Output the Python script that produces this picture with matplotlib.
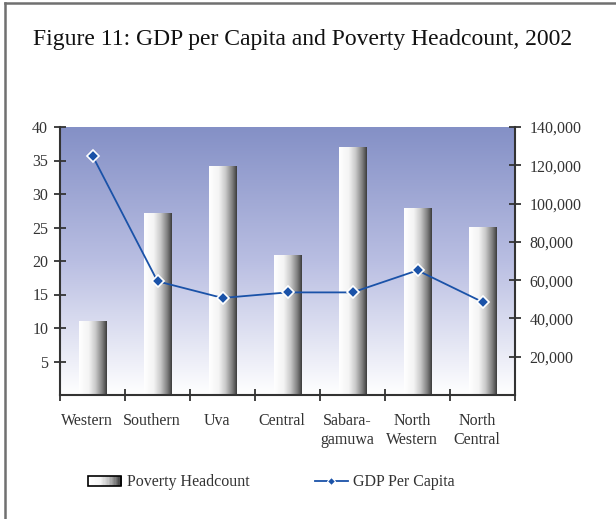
import numpy as np
import matplotlib
matplotlib.use("Agg")
import matplotlib.pyplot as plt
from matplotlib.colors import LinearSegmentedColormap
from matplotlib.patches import Rectangle
from matplotlib.lines import Line2D
from matplotlib.legend_handler import HandlerBase

categories = ["Western", "Southern", "Uva", "Central", "Sabara-\ngamuwa", "North\nWestern", "North\nCentral"]
poverty = [11.1, 27.2, 34.2, 20.9, 37.0, 27.9, 25.1]
gdp = [125000, 59400, 50700, 53600, 53600, 65100, 48600]
left_ticks = [5, 10, 15, 20, 25, 30, 35, 40]
right_ticks = [20000, 40000, 60000, 80000, 100000, 120000, 140000]
title = "Figure 11: GDP per Capita and Poverty Headcount, 2002"

plt.rcParams['font.family'] = ['Liberation Serif', 'DejaVu Serif']
txt = '#333333'

fig = plt.figure(figsize=(6.16, 5.19), dpi=100)
# frame lines (top & left)
fig.add_artist(Line2D([5/616, 5/616], [0, 1 - 3/519], transform=fig.transFigure, color='#707070', lw=1.8))
fig.add_artist(Line2D([5/616, 1], [1 - 3/519, 1 - 3/519], transform=fig.transFigure, color='#707070', lw=1.8))

fig.text(33/616, 1 - 40/519, title, fontsize=17, color='#111111', va='center', ha='left')

ax = fig.add_axes([60/616, 1 - 395/519, 455/616, 268/519])
n = len(categories)
x = np.arange(n)
ax.set_xlim(-0.5, n - 0.5)
ax.set_ylim(0, 40)

bg = LinearSegmentedColormap.from_list('bg', ['#FFFFFF', '#B9BEE2', '#8490C6'])
grad = np.linspace(0, 1, 256).reshape(-1, 1)
ax.imshow(grad, cmap=bg, aspect='auto', extent=[-0.5, n - 0.5, 0, 40], origin='lower', zorder=0)

barcm = LinearSegmentedColormap.from_list('bar', [(0, '#FFFFFF'), (0.35, '#F4F4F4'), (0.6, '#C8C8C8'), (0.85, '#7A7A7A'), (1, '#3C3C3C')])
hgrad = np.linspace(0, 1, 256).reshape(1, -1)
w = 0.43
bars = ax.bar(x, poverty, width=w, facecolor='none', edgecolor='none', zorder=2)
for b in bars:
    im = ax.imshow(hgrad, cmap=barcm, aspect='auto',
                   extent=[b.get_x(), b.get_x() + b.get_width(), 0, b.get_height()],
                   origin='lower', zorder=2)
    im.set_clip_path(b)
ax.set_xlim(-0.5, n - 0.5)
ax.set_ylim(0, 40)

ax2 = ax.twinx()
ax2.set_ylim(0, 140000)
line, = ax2.plot(x, gdp, color='#1A52A8', lw=1.3, marker='D', markersize=6,
                 markerfacecolor='#1A52A8', markeredgecolor='white', markeredgewidth=1.2, zorder=5)

for a in (ax, ax2):
    for s in a.spines.values():
        s.set_color('#333333')
        s.set_linewidth(1.5)
    a.spines['top'].set_visible(False)
ax2.spines['left'].set_visible(False)
ax2.spines['bottom'].set_visible(False)
ax.spines['right'].set_visible(False)

ax.set_yticks(left_ticks)
ax.set_yticklabels([str(v) for v in left_ticks])
ax.set_xticks(np.arange(-0.5, n, 1.0))
ax.set_xticklabels([])
for xi, lab in zip(x, categories):
    ax.annotate(lab, xy=(xi, 0), xycoords=('data', 'axes fraction'),
                xytext=(-4, -13), textcoords='offset points', ha='center', va='top',
                fontsize=11.5, color=txt, linespacing=1.25)
ax.tick_params(axis='x', which='major', direction='inout', length=9, width=1.3, color='#333333')
ax.tick_params(axis='y', direction='inout', length=9, width=1.3, color='#333333', labelsize=11.5, labelcolor=txt, pad=4)

ax2.set_yticks(right_ticks)
ax2.set_yticklabels([f"{v:,}" for v in right_ticks])
ax2.tick_params(axis='y', direction='inout', length=9, width=1.3, color='#333333', labelsize=11.5, labelcolor=txt, pad=6)


class GradHandler(HandlerBase):
    def create_artists(self, legend, orig_handle, xdescent, ydescent, width, height, fontsize, trans):
        arts = []
        k = 24
        for i in range(k):
            c = barcm(i / (k - 1))
            r = Rectangle((xdescent + width * i / k, ydescent), width / k + 0.3, height,
                          facecolor=c, edgecolor='none', transform=trans)
            arts.append(r)
        arts.append(Rectangle((xdescent, ydescent), width, height, facecolor='none',
                              edgecolor='black', lw=1.2, transform=trans))
        return arts


proxy = Rectangle((0, 0), 1, 1)
leg_line = Line2D([], [], color='#1A52A8', lw=1.3, marker='D', markersize=4,
                  markerfacecolor='#1A52A8', markeredgecolor='white', markeredgewidth=0.8)
fig.legend([proxy, leg_line], ["Poverty Headcount", "GDP Per Capita"],
           handler_map={Rectangle: GradHandler()}, loc='center left',
           bbox_to_anchor=(74/616, 1 - 482/519), ncol=2, frameon=False,
           fontsize=11.5, labelcolor=txt, handlelength=2.05, handleheight=0.65,
           handletextpad=0.35, columnspacing=4.1)

fig.savefig("out.png", dpi=100)
